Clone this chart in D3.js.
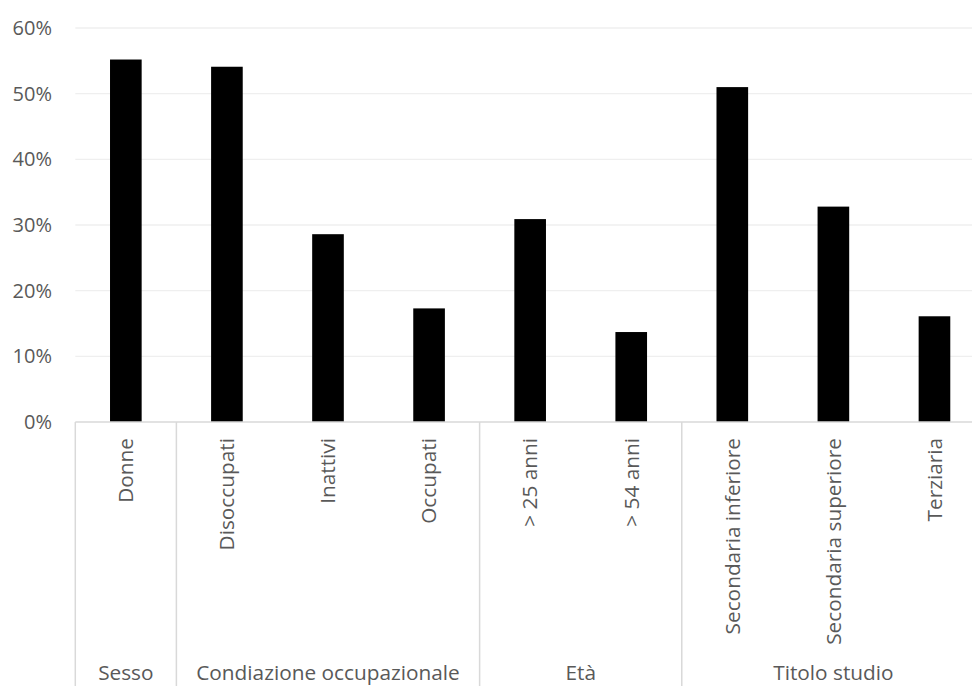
<!DOCTYPE html>
<html>
<head>
<meta charset="utf-8">
<script src="https://cdn.jsdelivr.net/npm/d3@7"></script>
<style>
  html, body { margin: 0; padding: 0; background: #fff; overflow: hidden; }
  svg { display: block; }
  text { font-family: "Open Sans", sans-serif; fill: #595959; }
</style>
</head>
<body>
<svg id="chart" width="972" height="686"></svg>
<script>
// ---- data ----
const categories = ["Donne", "Disoccupati", "Inattivi", "Occupati", "> 25 anni", "> 54 anni",
  "Secondaria inferiore", "Secondaria superiore", "Terziaria"];
const values = [0.552, 0.541, 0.286, 0.173, 0.309, 0.137, 0.510, 0.328, 0.161];
const groupNames = ["Sesso", "Condiazione occupazionale", "Età", "Titolo studio"];
const groupSizes = [1, 3, 2, 3];
const yTicks = [0, 0.1, 0.2, 0.3, 0.4, 0.5, 0.6];

// ---- layout ----
const W = 972, H = 686;
const plotL = 75.3, plotR = 985, plotT = 28, plotB = 422;
const svg = d3.select("#chart");

const x = d3.scaleBand().domain(categories).range([plotL, plotR])
  .paddingInner(0.687).paddingOuter(0.3435);
const step = x.step();
const y = d3.scaleLinear().domain([0, 0.6]).range([plotB, plotT]);

// gridlines
svg.append("g").selectAll("line").data(yTicks.filter(d => d > 0)).join("line")
  .attr("x1", plotL).attr("x2", plotR)
  .attr("y1", d => y(d)).attr("y2", d => y(d))
  .attr("stroke", "#efefef").attr("stroke-width", 1.3);

// y axis labels
const yAxis = d3.axisLeft(y).tickValues(yTicks).tickFormat(d3.format(".0%")).tickSize(0).tickPadding(0);
const ya = svg.append("g").attr("transform", `translate(52,0)`).call(yAxis);
ya.select(".domain").remove();
ya.selectAll("text").attr("font-size", 20).attr("fill", "#595959")
  .attr("font-family", "Open Sans, sans-serif");

// bars
svg.append("g").selectAll("rect").data(categories).join("rect")
  .attr("x", d => x(d)).attr("width", x.bandwidth())
  .attr("y", (d, i) => y(values[i]))
  .attr("height", (d, i) => y(0) - y(values[i]))
  .attr("fill", "#000");

// x axis line
svg.append("line").attr("x1", plotL).attr("x2", plotR)
  .attr("y1", plotB).attr("y2", plotB)
  .attr("stroke", "#d9d9d9").attr("stroke-width", 1.5);

// category labels (rotated)
svg.append("g").selectAll("text").data(categories).join("text")
  .attr("transform", d => `translate(${x(d) + x.bandwidth() / 2},438) rotate(-90)`)
  .attr("text-anchor", "end").attr("dy", "0.35em")
  .attr("font-size", 20.8)
  .text(d => d);

// group dividers and labels
let idx = 0;
const bounds = [0];
groupSizes.forEach(s => { idx += s; bounds.push(idx); });
const edge = i => plotL + i * step;

svg.append("g").selectAll("line").data(bounds).join("line")
  .attr("x1", d => edge(d)).attr("x2", d => edge(d))
  .attr("y1", plotB).attr("y2", H)
  .attr("stroke", "#d9d9d9").attr("stroke-width", 1.5);

svg.append("g").selectAll("text").data(groupNames).join("text")
  .attr("x", (d, i) => (edge(bounds[i]) + edge(bounds[i + 1])) / 2)
  .attr("y", 680)
  .attr("text-anchor", "middle")
  .attr("font-size", 20.8)
  .text(d => d);
</script>
</body>
</html>
